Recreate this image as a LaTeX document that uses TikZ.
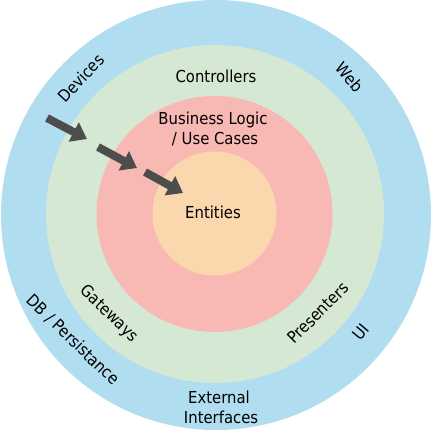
\documentclass[tikz,border=0pt]{standalone}
\usepackage{fontspec}
\setmainfont[FakeStretch=0.9]{DejaVu Sans}
\usetikzlibrary{arrows.meta}
\definecolor{ringblue}{HTML}{B1DDF0}
\definecolor{ringgreen}{HTML}{D5E8D4}
\definecolor{ringred}{HTML}{F8B9B5}
\definecolor{ringorange}{HTML}{FAD7AC}
\definecolor{arrowgray}{HTML}{4D4D4D}
\tikzset{
  lbl/.style={font=\fontsize{16.5}{20}\selectfont, inner sep=0pt, align=center, text=black},
  flowarrow/.style={draw=arrowgray, line width=8pt, -{Triangle[width=21pt,length=15pt]}, fill=arrowgray}
}
\begin{document}
\begin{tikzpicture}[x=1pt,y=-1pt]
\useasboundingbox (0,0) rectangle (433,433);
\fill[ringblue] (216,215) circle (215);
\fill[ringgreen] (215,214) circle (169);
\fill[ringred] (214.5,214) circle (118);
\fill[ringorange] (214.5,213.5) circle (62);

\node[lbl, rotate=47] (devices) at (81,78) {Devices};
\node[lbl, rotate=-50] (web) at (350,77) {Web};
\node[lbl] (controllers) at (216,76) {Controllers};
\node[lbl] (business) at (213,129) {Business Logic\\\phantom{i}/ Use Cases};
\node[lbl] (entities) at (213,212) {Entities};
\node[lbl, rotate=-44] (gateways) at (109,314) {Gateways};
\node[lbl, rotate=-44] (db) at (73,340) {DB / Persistance};
\node[lbl, rotate=45] (presenters) at (318,313) {Presenters};
\node[lbl, rotate=50] (ui) at (361,332) {UI};
\node[lbl] (external) at (219,407) {External\\\phantom{i}Interfaces};

\coordinate (a1s) at (47,118);
\coordinate (a1e) at (87,139);
\coordinate (a2s) at (98,147);
\coordinate (a2e) at (137,168);
\coordinate (a3s) at (145,172);
\coordinate (a3e) at (183,193);
\draw[flowarrow] (a1s) -- (a1e);
\draw[flowarrow] (a2s) -- (a2e);
\draw[flowarrow] (a3s) -- (a3e);
\end{tikzpicture}
\end{document}
